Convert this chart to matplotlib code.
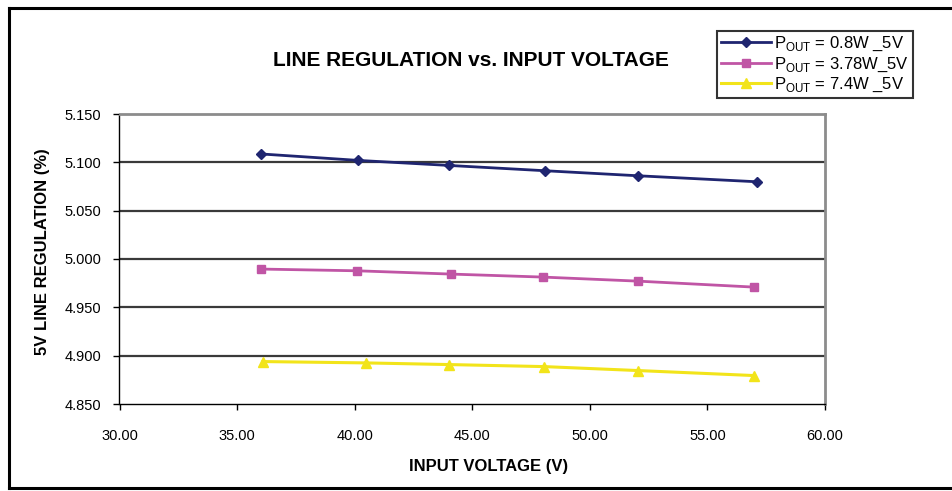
import matplotlib
matplotlib.use("Agg")
import matplotlib.pyplot as plt
from matplotlib.lines import Line2D

plt.rcParams['font.family'] = ['Liberation Sans', 'DejaVu Sans']
plt.rcParams['mathtext.fontset'] = 'custom'
plt.rcParams['mathtext.rm'] = 'Liberation Sans'

# data
vin_08 = [36.0, 40.15, 44.0, 48.1, 52.05, 57.1]
reg_08 = [5.1087, 5.1020, 5.0968, 5.0913, 5.0861, 5.0799]

vin_378 = [36.0, 40.1, 44.1, 48.0, 52.05, 57.0]
reg_378 = [4.9896, 4.9878, 4.9844, 4.9813, 4.9771, 4.9709]

vin_74 = [36.1, 40.5, 44.0, 48.05, 52.05, 57.0]
reg_74 = [4.8939, 4.8925, 4.8908, 4.8887, 4.8846, 4.8794]

labels = [r'P$_{\mathrm{OUT}}$ = 0.8W _5V',
          r'P$_{\mathrm{OUT}}$ = 3.78W_5V',
          r'P$_{\mathrm{OUT}}$ = 7.4W _5V']

x_ticks = [30, 35, 40, 45, 50, 55, 60]
y_ticks = [4.85, 4.90, 4.95, 5.00, 5.05, 5.10, 5.15]

W, H = 953, 491
fig = plt.figure(figsize=(W / 100, H / 100), dpi=100)

# plot area in pixels: left 119.5, right 825, top 114, bottom 404
ax = fig.add_axes([119.5 / W, 1 - 404 / H, (825 - 119.5) / W, (404 - 114) / H])

ax.plot(vin_08, reg_08, color='#1f2570', lw=2, marker='D', ms=5, label=labels[0])
ax.plot(vin_378, reg_378, color='#c055a5', lw=2, marker='s', ms=6, label=labels[1])
ax.plot(vin_74, reg_74, color='#f2e41a', lw=2.2, marker='^', ms=7, label=labels[2])

ax.set_xlim(30, 60)
ax.set_ylim(4.85, 5.15)
ax.set_xticks(x_ticks)
ax.set_yticks(y_ticks)
ax.set_xticklabels(['%.2f' % v for v in x_ticks])
ax.set_yticklabels(['%.3f' % v for v in y_ticks])

for v in y_ticks[1:-1]:
    ax.axhline(v, color='#3a3a3a', lw=1.6, zorder=1)

for s in ['top', 'right']:
    ax.spines[s].set_color('#8c8c8c')
    ax.spines[s].set_linewidth(2)
for s in ['left', 'bottom']:
    ax.spines[s].set_color('black')
    ax.spines[s].set_linewidth(1)

ax.tick_params(axis='both', direction='out', length=4, width=1, labelsize=10.5, color='black')
ax.tick_params(axis='y', pad=9)
ax.tick_params(axis='x', pad=14)

fig.text(471 / W, 1 - 61 / H, 'LINE REGULATION vs. INPUT VOLTAGE',
         ha='center', va='center', fontsize=15, fontweight='bold')
fig.text(489 / W, 1 - 466 / H, 'INPUT VOLTAGE (V)',
         ha='center', va='center', fontsize=12, fontweight='bold')
fig.text(43 / W, 1 - 252 / H, '5V LINE REGULATION (%)', rotation=90,
         ha='center', va='center', fontsize=12, fontweight='bold')

leg = ax.legend(loc='upper left', bbox_to_anchor=(717 / W, 1 - 31 / H),
                bbox_transform=fig.transFigure, fontsize=12, frameon=True,
                fancybox=False, borderpad=0.25, labelspacing=0.12,
                handlelength=3.0, handletextpad=0.2, borderaxespad=0)
leg.get_frame().set_edgecolor('black')
leg.get_frame().set_linewidth(1.5)

# outer chart border
fig.add_artist(Line2D([9 / W, 9 / W], [1 - 8 / H, 1 - 488 / H], color='black', lw=2.2,
                      transform=fig.transFigure))
fig.add_artist(Line2D([9 / W, 1], [1 - 8 / H, 1 - 8 / H], color='black', lw=2.2,
                      transform=fig.transFigure))
fig.add_artist(Line2D([9 / W, 1], [1 - 488 / H, 1 - 488 / H], color='black', lw=2.2,
                      transform=fig.transFigure))

fig.savefig('out.png', dpi=100)
